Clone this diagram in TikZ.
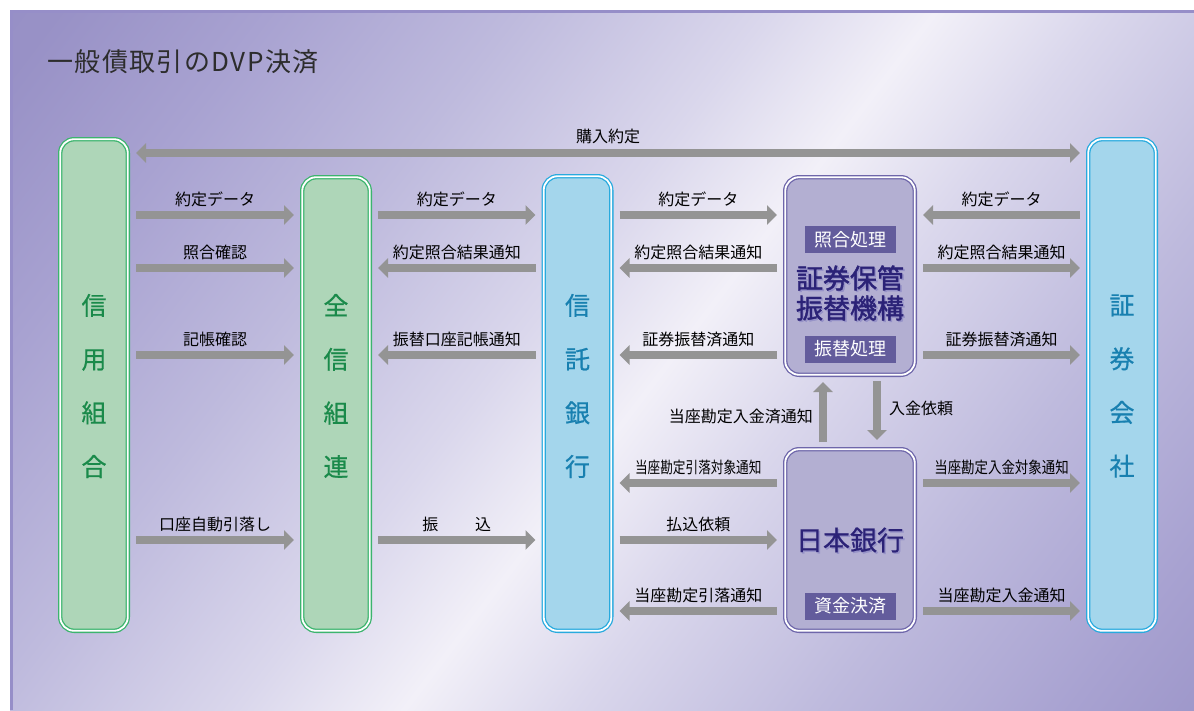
\documentclass[tikz,border=0pt]{standalone}
\usepackage{fontspec}
\usepackage{graphicx}
\setmainfont{Noto Sans CJK JP}
\usetikzlibrary{arrows.meta}
\definecolor{bg0}{RGB}{242,240,248}
\definecolor{bg1}{RGB}{218,215,236}
\definecolor{bg2}{RGB}{190,186,221}
\definecolor{bg3}{RGB}{168,162,209}
\definecolor{bg4}{RGB}{152,145,198}
\definecolor{bg5}{RGB}{140,133,190}
\definecolor{frameline}{RGB}{150,142,200}
\definecolor{grn}{RGB}{60,180,110}
\definecolor{grnfill}{RGB}{174,214,184}
\definecolor{grntext}{RGB}{26,138,74}
\definecolor{blu}{RGB}{40,170,222}
\definecolor{blufill}{RGB}{164,214,236}
\definecolor{blutext}{RGB}{24,128,176}
\definecolor{pur}{RGB}{110,102,170}
\definecolor{purfill}{RGB}{179,175,210}
\definecolor{purtag}{RGB}{99,92,156}
\definecolor{navy}{RGB}{43,34,119}
\definecolor{navyshadow}{RGB}{150,146,200}
\definecolor{arrgray}{RGB}{148,148,148}
\definecolor{titlegray}{RGB}{45,45,45}
\pgfdeclareverticalshading{bgshade}{100bp}{color(0bp)=(bg5); color(22.7bp)=(bg4);
  color(29.3bp)=(bg3); color(37bp)=(bg2); color(44.8bp)=(bg1); color(50bp)=(bg0);
  color(55.2bp)=(bg1); color(63bp)=(bg2); color(70.7bp)=(bg3); color(77.3bp)=(bg4); color(100bp)=(bg5)}
\tikzset{
  box/.style={rounded corners=14pt, line width=1.3pt, double distance=1.8pt, double=white,
    inner sep=0pt, outer sep=2.2pt},
  grnbox/.style={box, draw=grn, fill=grnfill, minimum width=67.6pt},
  blubox/.style={box, draw=blu, fill=blufill, minimum width=67.6pt},
  purbox/.style={box, draw=pur, fill=purfill, minimum width=129.6pt},
  coltext/.style={align=center, inner sep=0pt, font=\fontsize{25}{53.7}\selectfont\addfontfeature{FakeBold=0.6}},
  tag/.style={fill=purtag, text=white, minimum width=91pt, minimum height=27pt, inner sep=0pt,
    font=\fontsize{18}{20}\selectfont},
  lbl/.style={text=black, inner sep=0pt, font=\fontsize{16}{18}\selectfont},
  bigtext/.style={align=center, inner sep=0pt, font=\fontsize{27}{30}\selectfont\addfontfeature{FakeBold=1.6}},
  arr/.style={draw=arrgray, line width=8pt, -{Triangle[length=10pt,width=19pt]},
    shorten <=6pt, shorten >=6pt},
  darr/.style={draw=arrgray, line width=8pt, {Triangle[length=10pt,width=19pt]}-{Triangle[length=10pt,width=19pt]},
    shorten <=6pt, shorten >=6pt},
}
\begin{document}
\begin{tikzpicture}[x=1pt,y=-1pt]
\useasboundingbox (0,0) rectangle (1194,710);
% background
\begin{scope}
\clip (10,10) rectangle (1194,710);
\shade[shading=bgshade, shading angle=52.7] (5,-247) rectangle (1285,1033);
\end{scope}
\draw[frameline, line width=3pt] (10,11.5) -- (1194,11.5);
\draw[frameline, line width=3pt] (11.5,10) -- (11.5,710);
% title
\node[anchor=west, text=titlegray, inner sep=0pt, font=\fontsize{26}{28}\selectfont\addfontfeature{LetterSpace=5.5}] (title) at (47,62) {一般債取引のDVP決済};
% columns
\node[grnbox, minimum height=491.6pt] (cu) at (94,385) {};
\node[grnbox, minimum height=453.6pt] (zs) at (336,404) {};
\node[blubox, minimum height=454.6pt] (tb) at (577.5,403.5) {};
\node[blubox, minimum height=491.6pt] (sc) at (1122,385) {};
\node[purbox, minimum height=197.6pt] (jd) at (850,276) {};
\node[purbox, minimum height=181.6pt] (bj) at (850,540) {};
% column texts
\node[coltext, text=grntext] (cut) at (94,386) {信\\用\\組\\合};
\node[coltext, text=grntext] (zst) at (336,386) {全\\信\\組\\連};
\node[coltext, text=blutext] (tbt) at (577.5,386) {信\\託\\銀\\行};
\node[coltext, text=blutext] (sct) at (1122,386) {証\\券\\会\\社};
% center boxes texts
\node[tag] (t1) at (850.5,239.5) {照合処理};
\node[tag] (t2) at (850.5,349) {振替処理};
\node[tag] (t3) at (850.5,606) {資金決済};
\node[bigtext, text=navyshadow] (jds) at (851.5,294.5) {証券保管\\振替機構};
\node[bigtext, text=navy] (jdt) at (850,293) {証券保管\\振替機構};
\node[inner sep=0pt, text=navyshadow, font=\fontsize{27}{30}\selectfont\addfontfeature{FakeBold=0.6}] (bjs) at (851.5,541.5) {日本銀行};
\node[inner sep=0pt, text=navy, font=\fontsize{27}{30}\selectfont\addfontfeature{FakeBold=0.6}] (bjt) at (850,540) {日本銀行};
% top double arrow
\draw[darr] (cu.east |- 0,153) -- (sc.west |- 0,153) node[lbl, midway, yshift=17pt] (l0) {購入約定};
% row 215
\draw[arr] (cu.east |- 0,215) -- (zs.west |- 0,215) node[lbl, midway, yshift=16pt] (l1) {約定データ};
\draw[arr] (zs.east |- 0,215) -- (tb.west |- 0,215) node[lbl, midway, yshift=16pt] (l2) {約定データ};
\draw[arr] (tb.east |- 0,215) -- (jd.west |- 0,215) node[lbl, midway, yshift=16pt] (l3) {約定データ};
\draw[arr] (sc.west |- 0,215) -- (jd.east |- 0,215) node[lbl, midway, yshift=16pt] (l4) {約定データ};
% row 268
\draw[arr] (cu.east |- 0,268) -- (zs.west |- 0,268) node[lbl, midway, yshift=16pt] (l5) {照合確認};
\draw[arr] (tb.west |- 0,268) -- (zs.east |- 0,268) node[lbl, midway, yshift=16pt] (l6) {約定照合結果通知};
\draw[arr] (jd.west |- 0,268) -- (tb.east |- 0,268) node[lbl, midway, yshift=16pt] (l7) {約定照合結果通知};
\draw[arr] (jd.east |- 0,268) -- (sc.west |- 0,268) node[lbl, midway, yshift=16pt] (l8) {約定照合結果通知};
% row 355
\draw[arr] (cu.east |- 0,355) -- (zs.west |- 0,355) node[lbl, midway, yshift=16pt] (l9) {記帳確認};
\draw[arr] (tb.west |- 0,355) -- (zs.east |- 0,355) node[lbl, midway, yshift=16pt] (l10) {振替口座記帳通知};
\draw[arr] (jd.west |- 0,355) -- (tb.east |- 0,355) node[lbl, midway, yshift=16pt] (l11) {証券振替済通知};
\draw[arr] (jd.east |- 0,355) -- (sc.west |- 0,355) node[lbl, midway, yshift=16pt] (l12) {証券振替済通知};
% vertical arrows
\coordinate (vx1) at (823,0);
\coordinate (vx2) at (877,0);
\draw[arr, shorten <=5pt, shorten >=5pt] (vx1 |- bj.north) -- (vx1 |- jd.south);
\draw[arr, shorten <=4pt, shorten >=7pt] (vx2 |- jd.south) -- (vx2 |- bj.north);
\node[lbl, anchor=east] (l13) at (813,416) {当座勘定入金済通知};
\node[lbl, anchor=west] (l14) at (889,408) {入金依頼};
% row 483
\draw[arr] (bj.west |- 0,483) -- (tb.east |- 0,483) node[lbl, midway, yshift=16pt] (l15) {\scalebox{0.79}[1]{当座勘定引落対象通知}};
\draw[arr] (bj.east |- 0,483) -- (sc.west |- 0,483) node[lbl, midway, yshift=16pt] (l16) {\scalebox{0.84}[1]{当座勘定入金対象通知}};
% row 540
\draw[arr] (cu.east |- 0,540) -- (zs.west |- 0,540) node[lbl, midway, yshift=16pt] (l17) {口座自動引落し};
\draw[arr] (zs.east |- 0,540) -- (tb.west |- 0,540) node[lbl, midway, yshift=16pt] (l18) {振\hspace{37pt}込};
\draw[arr] (tb.east |- 0,540) -- (bj.west |- 0,540) node[lbl, midway, yshift=16pt] (l19) {払込依頼};
% row 611
\draw[arr] (bj.west |- 0,611) -- (tb.east |- 0,611) node[lbl, midway, yshift=16pt] (l20) {当座勘定引落通知};
\draw[arr] (bj.east |- 0,611) -- (sc.west |- 0,611) node[lbl, midway, yshift=16pt] (l21) {当座勘定入金通知};
\end{tikzpicture}
\end{document}
